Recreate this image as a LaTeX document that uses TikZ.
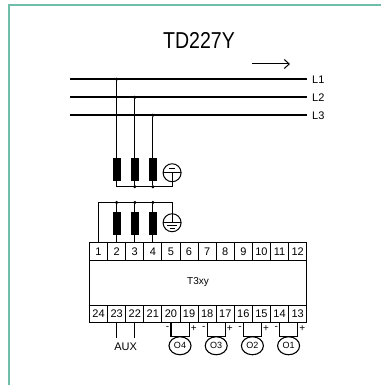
\documentclass[tikz,border=0pt]{standalone}
\usepackage{fontspec}
\setmainfont{Liberation Sans}
\usetikzlibrary{shapes,arrows.meta}
\usetikzlibrary{positioning}
\definecolor{framegreen}{RGB}{112,190,170}

\begin{document}
\begin{tikzpicture}[x=1pt,y=-1pt,
    bus/.style={draw,line width=1.7pt},
    wire/.style={draw,line width=1.1pt},
    phase/.style={anchor=west,inner xsep=5pt,inner ysep=0pt,font=\fontsize{11}{12}\selectfont},
    term/.style={draw,line width=0.9pt,minimum width=18.1pt,minimum height=17.5pt,inner sep=0pt,outer sep=0pt,font=\fontsize{11}{12}\selectfont},
    body/.style={draw,line width=0.9pt,minimum width=217.2pt,minimum height=45pt,inner sep=0pt,outer sep=0pt},
    res/.style={draw,fill=black,minimum width=7.5pt,minimum height=22pt,inner sep=0pt,outer sep=0pt},
    junc/.style={circle,fill=black,inner sep=0pt,minimum size=3.5pt},
    earth/.style={draw,circle,line width=1pt,minimum size=18pt,inner sep=0pt,outer sep=0pt},
    meter/.style={draw,ellipse,line width=1.1pt,minimum width=22pt,minimum height=18pt,inner sep=0pt,outer sep=0pt,font=\fontsize{9}{10}\selectfont},
    sign/.style={inner sep=0pt,font=\fontsize{10}{10}\selectfont}]

    \useasboundingbox (0,0) rectangle (381,385);
    \draw[framegreen,line width=1.6pt] (9,385) -- (9,5) -- (381,5);

    \node[font=\fontsize{23}{25}\selectfont] (title) at (199,40) {\scalebox{0.85}[1]{TD227Y}};
    \coordinate (ar1) at (252,64);
    \coordinate (ar2) at (290,64);
    \draw[-{Straight Barb[length=5pt,width=9pt]},line width=1pt] (ar1) -- (ar2);

    % phases
    \node[phase] (L1) at (307,79.3) {L1};
    \node[phase] (L2) at (307,97.3) {L2};
    \node[phase] (L3) at (307,115.3) {L3};
    \coordinate (s1) at (70,79.3);
    \coordinate (s2) at (70,97.3);
    \coordinate (s3) at (70,115.3);
    \draw[bus] (s1) -- (L1.west);
    \draw[bus] (s2) -- (L2.west);
    \draw[bus] (s3) -- (L3.west);

    % terminal block, top row
    \node[term] (t1) at (98.55,251.5) {1};
    \node[term, right=0pt of t1] (t2) {2};
    \node[term, right=0pt of t2] (t3) {3};
    \node[term, right=0pt of t3] (t4) {4};
    \node[term, right=0pt of t4] (t5) {5};
    \node[term, right=0pt of t5] (t6) {6};
    \node[term, right=0pt of t6] (t7) {7};
    \node[term, right=0pt of t7] (t8) {8};
    \node[term, right=0pt of t8] (t9) {9};
    \node[term, right=0pt of t9] (t10) {10};
    \node[term, right=0pt of t10] (t11) {11};
    \node[term, right=0pt of t11] (t12) {12};

    \node[body, below right=0pt and 0pt of t1.south west] (dev) {};
    \node[font=\fontsize{10}{11}\selectfont] (name) at (198,282) {T3xy};

    % bottom row
    \node[term, below right=0pt and 0pt of dev.south west] (t24) {24};
    \node[term, right=0pt of t24] (t23) {23};
    \node[term, right=0pt of t23] (t22) {22};
    \node[term, right=0pt of t22] (t21) {21};
    \node[term, right=0pt of t21] (t20) {20};
    \node[term, right=0pt of t20] (t19) {19};
    \node[term, right=0pt of t19] (t18) {18};
    \node[term, right=0pt of t18] (t17) {17};
    \node[term, right=0pt of t17] (t16) {16};
    \node[term, right=0pt of t16] (t15) {15};
    \node[term, right=0pt of t15] (t14) {14};
    \node[term, right=0pt of t14] (t13) {13};

    % lower resistors
    \node[res, above=9pt of t2] (r2) {};
    \node[res, above=9pt of t3] (r3) {};
    \node[res, above=9pt of t4] (r4) {};
    \node[junc, above=7.3pt of r2] (j2) {};
    \node[junc, above=7.3pt of r3] (j3) {};
    \node[junc, above=7.3pt of r4] (j4) {};
    \node[earth, right=6.5pt of r4] (e2) {};
    \draw[wire] (t1.north) |- (e2.north |- j2) -- (e2.north);
    \draw[wire] (j2) -- (t2.north);
    \draw[wire] (j3) -- (t3.north);
    \draw[wire] (j4) -- (t4.north);
    \draw[wire] (e2.north) -- (e2.center);
    \draw[line width=1pt] (e2.west) -- (e2.east);
    \draw[line width=1pt] ([xshift=-5pt,yshift=-3pt]e2.center) -- ([xshift=5pt,yshift=-3pt]e2.center);
    \draw[line width=1pt] ([xshift=-2.5pt,yshift=-6pt]e2.center) -- ([xshift=2.5pt,yshift=-6pt]e2.center);

    % upper resistors
    \node[res, above=32pt of r2] (u2) {};
    \node[res, above=32pt of r3] (u3) {};
    \node[res, above=32pt of r4] (u4) {};
    \node[junc] (p1) at (u2 |- L1.west) {};
    \node[junc] (p2) at (u3 |- L2.west) {};
    \node[junc] (p3) at (u4 |- L3.west) {};
    \draw[wire] (p1) -- (u2);
    \draw[wire] (p2) -- (u3);
    \draw[wire] (p3) -- (u4);
    \node[junc, below=5pt of u3] (b3) {};
    \node[junc, below=5pt of u4] (b4) {};
    \node[earth, above=32pt of e2] (e1) {};
    \draw[wire] (u2.south) |- (e1.south |- b3) -- (e1.south);
    \draw[wire] (u3.south) -- (b3);
    \draw[wire] (u4.south) -- (b4);
    \draw[wire] (e1.south) -- (e1.center);
    \draw[line width=1pt] (e1.west) -- (e1.east);
    \draw[line width=1pt] ([xshift=-3pt,yshift=4pt]e1.center) -- ([xshift=3pt,yshift=4pt]e1.center);

    % aux
    \node[inner xsep=1pt, inner ysep=4.5pt, font=\fontsize{11}{12}\selectfont, below=15pt of t23.south east] (aux) {AUX};
    \draw[wire] (t23.south) -- (t23.south |- aux.north);
    \draw[wire] (t22.south) -- (t22.south |- aux.north);

    % outputs
    \node[meter, below=14pt of t20.south east] (o4) {O4};
    \node[meter, below=14pt of t18.south east] (o3) {O3};
    \node[meter, below=14pt of t16.south east] (o2) {O2};
    \node[meter, below=14pt of t14.south east] (o1) {O1};
    \draw[wire] (t20.south) |- (o4.north) -| (t19.south);
    \draw[wire] (t18.south) |- (o3.north) -| (t17.south);
    \draw[wire] (t16.south) |- (o2.north) -| (t15.south);
    \draw[wire] (t14.south) |- (o1.north) -| (t13.south);

    \node[sign, below left=3pt and 1.5pt of t20.south] (m4) {-};
    \node[sign, below right=3pt and 1.5pt of t19.south] (q4) {+};
    \node[sign, below left=3pt and 1.5pt of t18.south] (m3) {-};
    \node[sign, below right=3pt and 1.5pt of t17.south] (q3) {+};
    \node[sign, below left=3pt and 1.5pt of t16.south] (m2) {-};
    \node[sign, below right=3pt and 1.5pt of t15.south] (q2) {+};
    \node[sign, below left=3pt and 1.5pt of t14.south] (m1) {-};
    \node[sign, below right=3pt and 1.5pt of t13.south] (q1) {+};

\end{tikzpicture}
\end{document}
